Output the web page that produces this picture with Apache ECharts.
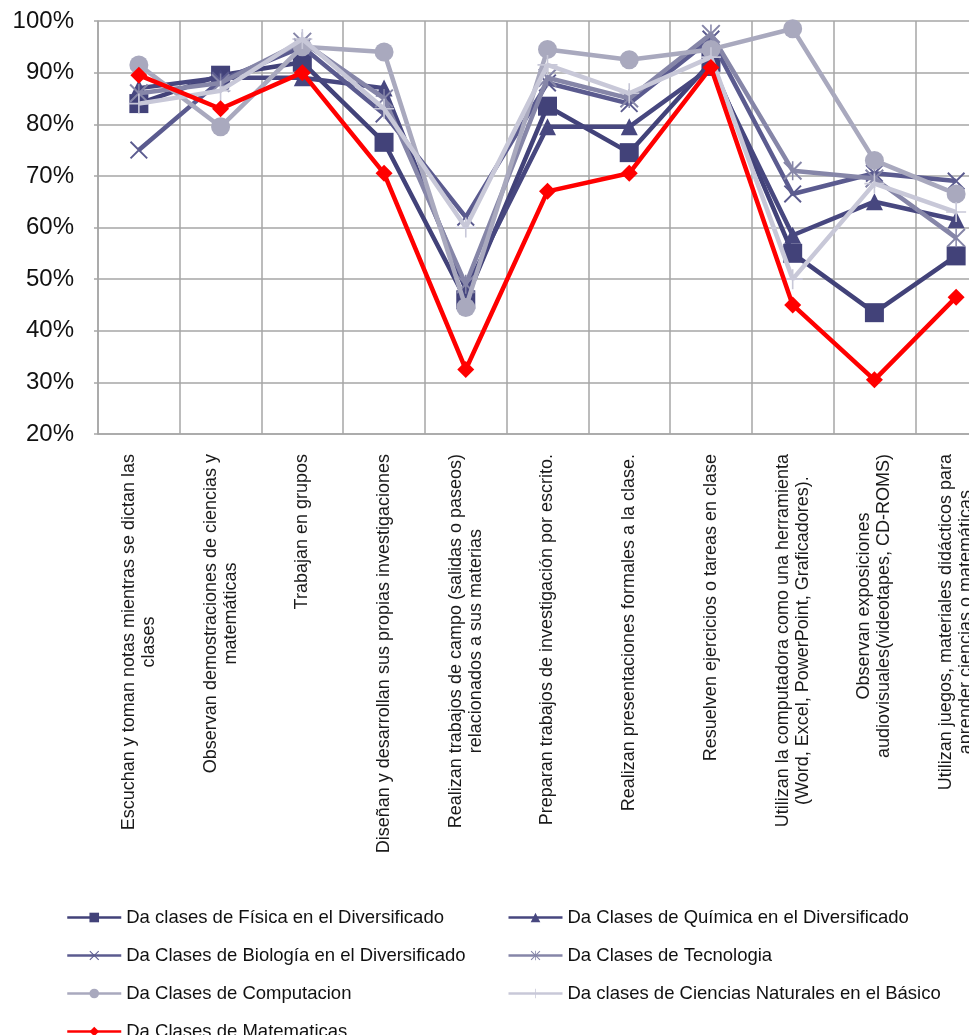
<!DOCTYPE html>
<html>
<head>
<meta charset="utf-8">
<script src="https://cdn.jsdelivr.net/npm/echarts@6/dist/echarts.min.js"></script>
<style>
html,body{margin:0;padding:0;background:#fff;}
#chart{width:969px;height:1035px;}
</style>
</head>
<body>
<div id="chart"></div>
<script>
const categories = [
  "Escuchan y toman notas mientras se dictan las\nclases",
  "Observan demostraciones de ciencias y\nmatemáticas",
  "Trabajan en grupos",
  "Diseñan y desarrollan sus propias investigaciones",
  "Realizan trabajos de campo (salidas o paseos)\nrelacionados a sus materias",
  "Preparan trabajos de investigación por escrito.",
  "Realizan presentaciones formales a la clase.",
  "Resuelven ejercicios o tareas en clase",
  "Utilizan la computadora como una herramienta\n(Word, Excel, PowerPoint, Graficadores).",
  "Observan exposiciones\naudiovisuales(videotapes, CD-ROMS)",
  "Utilizan juegos, materiales didácticos para\naprender ciencias o matemáticas"
];
const seriesNames = [
  "Da clases de Física en el Diversificado",
  "Da Clases de Química en el Diversificado",
  "Da Clases de Biología en el Diversificado",
  "Da Clases de Tecnologia",
  "Da Clases de Computacion",
  "Da clases de Ciencias Naturales en el Básico",
  "Da Clases de Matematicas"
];
const fisica      = [84, 89.5, 92, 76.5, 46, 83.5, 74.5, 92, 55, 43.5, 54.5];
const quimica     = [87, 89, 89, 87, 48, 79.5, 79.5, 91, 58.5, 65, 61.5];
const biologia    = [75, 88.5, 95, 82, 62, 88, 84, 96.5, 66.5, 70.5, 69];
const tecnologia  = [86, 88, 96, 85, 49, 89, 85, 97.5, 71, 69.5, 58];
const computacion = [91.5, 79.5, 95, 94, 44.5, 94.5, 92.5, 94.5, 98.5, 73, 66.5];
const cienciasNat = [84, 86.5, 96.5, 83, 60, 91.5, 86, 93, 50, 68.5, 63];
const matematicas = [89.5, 83, 90, 70.5, 32.5, 67, 70.5, 91, 45, 30.5, 46.5];
const yTicks = [20, 30, 40, 50, 60, 70, 80, 90, 100];

const seriesData = [fisica, quimica, biologia, tecnologia, computacion, cienciasNat, matematicas];
const colors = ['#424279', '#47477f', '#5b5b8f', '#8686a8', '#a9a9be', '#c8c8d8', '#ff0000'];
const X_PATH = 'path://M0,1.5L1.5,0L20,18.5L18.5,20Z M18.5,0L20,1.5L1.5,20L0,18.5Z';
const STAR_PATH = 'path://M0,1.5L1.5,0L20,18.5L18.5,20Z M18.5,0L20,1.5L1.5,20L0,18.5Z M9.2,0L10.8,0L10.8,20L9.2,20Z';
const PLUS_PATH = 'path://M9.2,0L10.8,0L10.8,20L9.2,20Z M0,9.2L20,9.2L20,10.8L0,10.8Z';
const symbols = ['rect', 'triangle', X_PATH, STAR_PATH, 'circle', PLUS_PATH, 'diamond'];
const symbolSizes = [19, 17, 18, 19, 19, 20, 17];

const FONT = '"Liberation Sans", Arial, sans-serif';

const chart = echarts.init(document.getElementById('chart'), null, {renderer: 'canvas'});
chart.setOption({
  animation: false,
  backgroundColor: '#ffffff',
  textStyle: {fontFamily: FONT},
  grid: {left: 98, width: 899, top: 21, height: 413, containLabel: false, outerBoundsMode: 'none'},
  legend: {
    left: 66, top: 908, width: 910, padding: 0,
    itemWidth: 54, itemHeight: 12, itemGap: 19,
    lineStyle: {width: 2.5},
    textStyle: {fontSize: 18.5, color: '#111', width: 362, lineHeight: 17, fontFamily: FONT},
    data: seriesNames
  },
  xAxis: {
    type: 'category',
    data: categories,
    boundaryGap: true,
    axisLine: {show: true, lineStyle: {color: '#a6a6a6', width: 1.5}},
    axisTick: {show: false},
    splitLine: {show: true, lineStyle: {color: '#a6a6a6', width: 1.5}},
    axisLabel: {
      interval: 0, rotate: 90, margin: 20,
      color: '#1a1a1a', fontSize: 18, lineHeight: 20, fontFamily: FONT,
      formatter: v => v.split('\n').map(l => '{c|' + l + '}').join('\n'),
      rich: {c: {align: 'center', fontSize: 18, lineHeight: 20, color: '#1a1a1a', fontFamily: FONT}}
    }
  },
  yAxis: {
    type: 'value',
    min: yTicks[0], max: yTicks[yTicks.length - 1], interval: 10,
    axisLine: {show: true, lineStyle: {color: '#a6a6a6', width: 1.5}},
    axisTick: {show: true, length: 4, lineStyle: {color: '#a6a6a6', width: 1.5}},
    splitLine: {show: true, lineStyle: {color: '#a6a6a6', width: 1.5}},
    axisLabel: {margin: 24, fontSize: 24, color: '#111', fontFamily: FONT, formatter: '{value}%'}
  },
  series: seriesNames.map((name, i) => ({
    name: name,
    type: 'line',
    data: seriesData[i],
    symbol: symbols[i],
    symbolSize: symbolSizes[i],
    showAllSymbol: true,
    lineStyle: {color: colors[i], width: 4.5},
    itemStyle: {color: colors[i]},
    z: 2 + i
  }))
});
</script>
</body>
</html>
